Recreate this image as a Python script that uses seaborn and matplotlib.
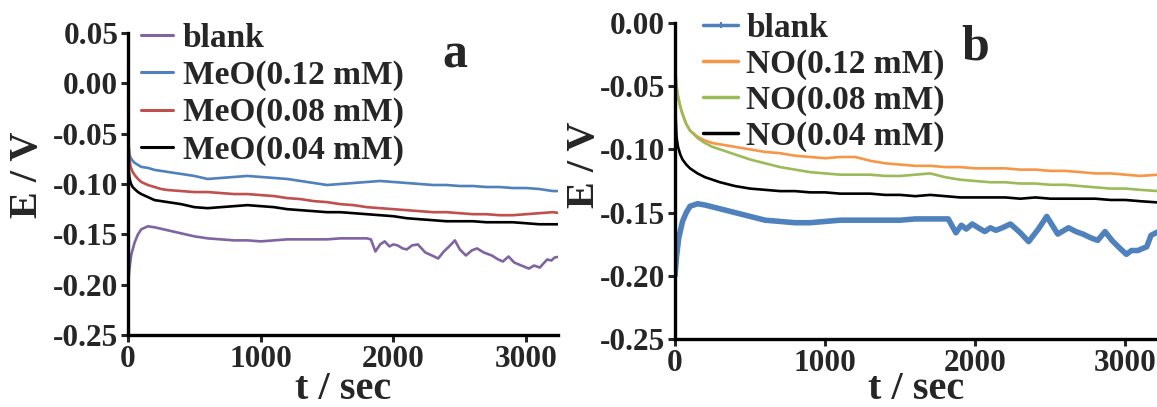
import numpy as np
import pandas as pd
import matplotlib
matplotlib.use("Agg")
import matplotlib.pyplot as plt
from matplotlib.lines import Line2D
import seaborn as sns

# ---------------- data ----------------
t_a = [0, 5, 10, 20, 35, 50, 75, 100, 150, 200, 250, 300, 400, 500, 600, 700, 800,
       900, 1000, 1100, 1200, 1300, 1400, 1500, 1600, 1700, 1800, 1900, 2000, 2100,
       2200, 2300, 2400, 2500, 2600, 2700, 2800, 2900, 3000, 3100, 3200, 3260]
meo_012 = [-0.055, -0.065, -0.070, -0.074, -0.077, -0.079, -0.081, -0.083, -0.084, -0.086,
           -0.087, -0.088, -0.090, -0.092, -0.095, -0.094, -0.093, -0.092, -0.093, -0.094,
           -0.095, -0.097, -0.099, -0.101, -0.100, -0.099, -0.098, -0.097, -0.098, -0.099,
           -0.100, -0.101, -0.101, -0.102, -0.102, -0.103, -0.103, -0.104, -0.104, -0.105,
           -0.107, -0.107]
meo_008 = [0.020, -0.060, -0.075, -0.083, -0.088, -0.091, -0.095, -0.098, -0.101, -0.103,
           -0.105, -0.106, -0.107, -0.108, -0.108, -0.109, -0.110, -0.110, -0.111, -0.112,
           -0.114, -0.115, -0.117, -0.118, -0.120, -0.121, -0.123, -0.124, -0.125, -0.126,
           -0.127, -0.128, -0.128, -0.129, -0.130, -0.130, -0.131, -0.131, -0.130, -0.129,
           -0.128, -0.129]
meo_004 = [-0.060, -0.085, -0.093, -0.099, -0.103, -0.105, -0.108, -0.110, -0.113, -0.116,
           -0.117, -0.118, -0.120, -0.123, -0.124, -0.123, -0.122, -0.121, -0.122, -0.123,
           -0.125, -0.126, -0.127, -0.128, -0.128, -0.129, -0.130, -0.131, -0.132, -0.134,
           -0.135, -0.136, -0.137, -0.137, -0.137, -0.138, -0.138, -0.138, -0.139, -0.140,
           -0.140, -0.140]

t_blank_a = [0, 10, 25, 50, 75, 100, 150, 200, 300, 400, 500, 600, 700, 800, 900, 1000,
             1100, 1200, 1300, 1400, 1500, 1600, 1700, 1800, 1830, 1864, 1900, 1934, 1970,
             2000, 2031, 2070, 2101, 2140, 2184, 2240, 2290, 2337, 2380, 2420, 2463, 2500,
             2546, 2590, 2630, 2680, 2741, 2790, 2825, 2867, 2910, 2964, 3020, 3060, 3103,
             3130, 3159, 3190, 3215, 3260]
blank_a = [-0.200, -0.185, -0.170, -0.158, -0.150, -0.145, -0.142, -0.143, -0.146, -0.149,
           -0.152, -0.154, -0.155, -0.156, -0.156, -0.157, -0.156, -0.155, -0.155, -0.155,
           -0.155, -0.154, -0.154, -0.154, -0.155, -0.167, -0.160, -0.157, -0.162, -0.160,
           -0.161, -0.164, -0.165, -0.161, -0.160, -0.168, -0.171, -0.174, -0.167, -0.162,
           -0.156, -0.165, -0.171, -0.166, -0.164, -0.168, -0.171, -0.175, -0.177, -0.172,
           -0.178, -0.181, -0.184, -0.181, -0.183, -0.179, -0.175, -0.176, -0.173, -0.172]

t_b = [0, 3, 10, 20, 35, 50, 75, 100, 150, 200, 250, 300, 400, 500, 600, 700, 800, 900,
       1000, 1100, 1200, 1300, 1400, 1500, 1600, 1700, 1800, 1900, 2000, 2100, 2200, 2300,
       2400, 2500, 2600, 2700, 2800, 2900, 3000, 3100, 3220]
no_012 = [-0.145, -0.040, -0.050, -0.058, -0.066, -0.072, -0.080, -0.085, -0.090, -0.093,
          -0.095, -0.096, -0.098, -0.100, -0.102, -0.103, -0.105, -0.106, -0.107, -0.106,
          -0.106, -0.109, -0.111, -0.112, -0.113, -0.113, -0.114, -0.114, -0.115, -0.115,
          -0.115, -0.116, -0.116, -0.117, -0.117, -0.118, -0.119, -0.119, -0.120, -0.121,
          -0.120]
no_008 = [-0.035, -0.040, -0.050, -0.058, -0.066, -0.072, -0.080, -0.085, -0.091, -0.095,
          -0.098, -0.100, -0.104, -0.108, -0.111, -0.114, -0.116, -0.118, -0.119, -0.120,
          -0.120, -0.120, -0.121, -0.121, -0.120, -0.119, -0.122, -0.124, -0.125, -0.126,
          -0.126, -0.127, -0.127, -0.128, -0.128, -0.129, -0.130, -0.131, -0.131, -0.132,
          -0.133]
no_004 = [-0.030, -0.070, -0.090, -0.098, -0.104, -0.108, -0.112, -0.115, -0.119, -0.122,
          -0.124, -0.126, -0.129, -0.131, -0.132, -0.133, -0.133, -0.134, -0.134, -0.135,
          -0.135, -0.135, -0.136, -0.136, -0.137, -0.136, -0.137, -0.138, -0.138, -0.138,
          -0.138, -0.139, -0.138, -0.139, -0.139, -0.139, -0.139, -0.140, -0.140, -0.141,
          -0.142]

t_blank_b = [0, 10, 25, 50, 75, 100, 150, 200, 300, 400, 500, 600, 700, 800, 900, 1000,
             1100, 1200, 1300, 1400, 1500, 1600, 1700, 1820, 1871, 1907, 1940, 1980, 2020,
             2063, 2100, 2137, 2180, 2234, 2300, 2355, 2420, 2476, 2549, 2621, 2670, 2717,
             2770, 2815, 2864, 2910, 2961, 3006, 3040, 3082, 3142, 3170, 3220]
blank_b = [-0.200, -0.185, -0.170, -0.157, -0.150, -0.145, -0.143, -0.144, -0.147, -0.150,
           -0.153, -0.156, -0.157, -0.158, -0.158, -0.157, -0.156, -0.156, -0.156, -0.156,
           -0.156, -0.155, -0.155, -0.155, -0.166, -0.160, -0.163, -0.159, -0.162, -0.165,
           -0.162, -0.164, -0.162, -0.159, -0.166, -0.173, -0.163, -0.153, -0.167, -0.162,
           -0.165, -0.167, -0.170, -0.172, -0.165, -0.172, -0.178, -0.183, -0.180, -0.180,
           -0.177, -0.168, -0.165]

labels_a = ["blank", "MeO(0.12 mM)", "MeO(0.08 mM)", "MeO(0.04 mM)"]
labels_b = ["blank", "NO(0.12 mM)", "NO(0.08 mM)", "NO(0.04 mM)"]
yticks_a = [0.05, 0.00, -0.05, -0.10, -0.15, -0.20, -0.25]
yticks_b = [0.00, -0.05, -0.10, -0.15, -0.20, -0.25]
xticks = [0, 1000, 2000, 3000]

# ---------------- style ----------------
sns.set_style("ticks")
plt.rcParams["font.family"] = ["Liberation Serif", "DejaVu Serif"]
plt.rcParams["font.weight"] = "bold"
plt.rcParams["axes.labelweight"] = "bold"

fig = plt.figure(figsize=(11.57, 4.07), dpi=100)
W, H = 1157, 407
ax_a = fig.add_axes([128 / W, (H - 335) / H, (558 - 128) / W, (335 - 33) / H])
ax_b = fig.add_axes([675 / W, (H - 339) / H, (1157 - 675) / W, (339 - 23) / H])

c_purple = "#8064A2"
c_blue = "#4F81BD"
c_red = "#C0504D"
c_orange = "#F79646"
c_green = "#9BBB59"

lw = 1.9
sns.lineplot(x=t_blank_a, y=blank_a, ax=ax_a, color=c_purple, lw=lw, sort=False, estimator=None)
sns.lineplot(x=t_a, y=meo_012, ax=ax_a, color=c_blue, lw=lw, sort=False, estimator=None)
sns.lineplot(x=t_a, y=meo_008, ax=ax_a, color=c_red, lw=lw, sort=False, estimator=None)
sns.lineplot(x=t_a, y=meo_004, ax=ax_a, color="black", lw=lw, sort=False, estimator=None)

sns.lineplot(x=t_blank_b, y=blank_b, ax=ax_b, color=c_blue, lw=4.0, sort=False, estimator=None)
sns.lineplot(x=t_b, y=no_012, ax=ax_b, color=c_orange, lw=lw, sort=False, estimator=None)
sns.lineplot(x=t_b, y=no_008, ax=ax_b, color=c_green, lw=lw, sort=False, estimator=None)
sns.lineplot(x=t_b, y=no_004, ax=ax_b, color="black", lw=lw, sort=False, estimator=None)

tick_fs = 22.5
for ax, yt, ylim, xmax, xlp in [(ax_a, yticks_a, (-0.25, 0.05), 3240, -2),
                                (ax_b, yticks_b, (-0.25, 0.0), 3210, -5)]:
    ax.set_xlim(0, xmax)
    ax.set_ylim(*ylim)
    ax.set_yticks(yt)
    ax.set_yticklabels([f"{v:.2f}" if v != 0 else "0.00" for v in yt])
    ax.set_xticks(xticks)
    for s in ["top", "right"]:
        ax.spines[s].set_visible(False)
    for s in ["left", "bottom"]:
        ax.spines[s].set_linewidth(2.4)
        ax.spines[s].set_color("black")
    ax.tick_params(axis="both", direction="out", length=5, width=2.2, labelsize=tick_fs, pad=2)
    for lab in ax.get_xticklabels() + ax.get_yticklabels():
        lab.set_fontweight("bold")
    ax.set_xlabel("t / sec", fontsize=29, fontweight="bold", labelpad=xlp)
    ax.set_facecolor("white")

ax_a.set_ylabel("E / V", fontsize=29, fontweight="bold")
ax_b.set_ylabel("E / V", fontsize=29, fontweight="bold")
ax_a.yaxis.set_label_coords(-0.19, 0.53)
ax_b.yaxis.set_label_coords(-0.15, 0.55)

# legends
def handles(colors, lws, markers):
    return [Line2D([0], [0], color=c, lw=w, marker=m, markersize=5, markeredgewidth=1.5)
            for c, w, m in zip(colors, lws, markers)]

leg_a = ax_a.legend(handles([c_purple, c_blue, c_red, "black"], [2.2] * 4, [None] * 4), labels_a,
                    loc="upper left", bbox_to_anchor=(141 / W, 1 - 23 / H), bbox_transform=fig.transFigure,
                    frameon=False, fontsize=24, handlelength=0.95, handletextpad=0.3,
                    labelspacing=0.18, borderpad=0, borderaxespad=0)
leg_b = ax_b.legend(handles([c_blue, c_orange, c_green, "black"], [2.5] * 4, ["+", None, None, None]), labels_b,
                    loc="upper left", bbox_to_anchor=(703 / W, 1 - 13 / H), bbox_transform=fig.transFigure,
                    frameon=False, fontsize=24, handlelength=1.05, handletextpad=0.25,
                    labelspacing=0.14, borderpad=0, borderaxespad=0)
for leg in (leg_a, leg_b):
    for txt in leg.get_texts():
        txt.set_fontweight("bold")

fig.text(455 / W, 1 - 55 / H, "a", fontsize=36, fontweight="bold", ha="center", va="center")
fig.text(975 / W, 1 - 47 / H, "b", fontsize=36, fontweight="bold", ha="center", va="center")

fig.savefig("out.png", dpi=100, facecolor="white")
